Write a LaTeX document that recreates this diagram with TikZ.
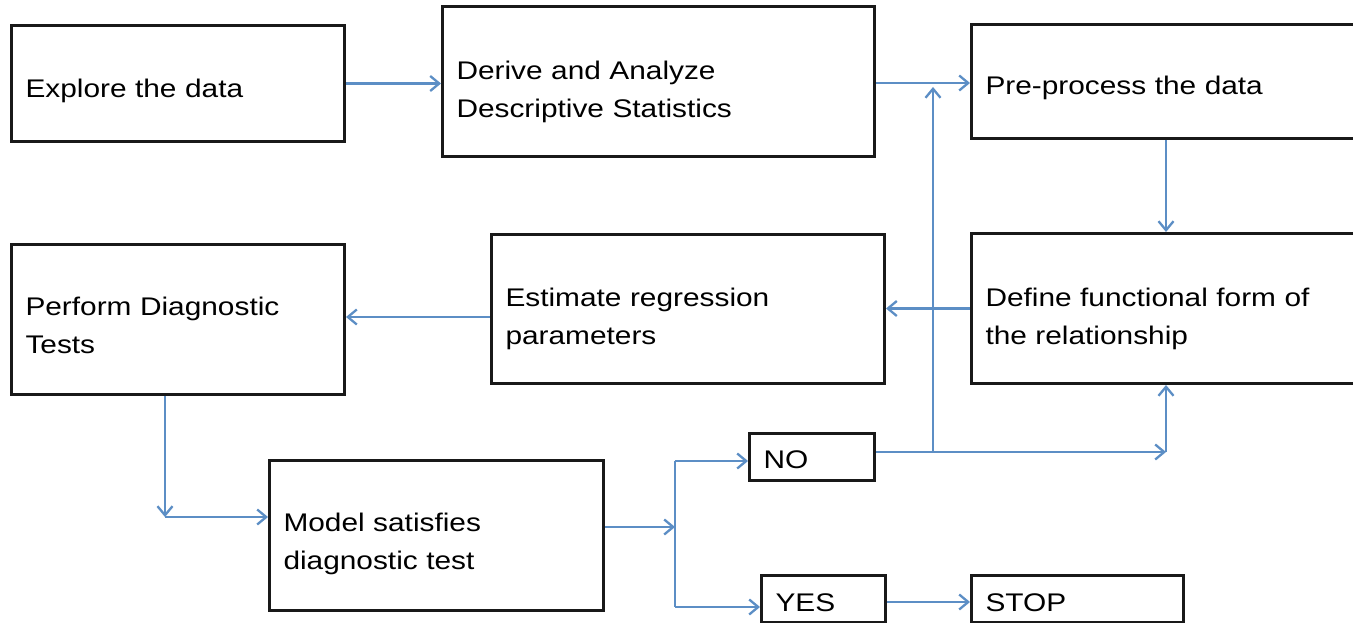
\documentclass[tikz,border=0pt]{standalone}
\usepackage{fontspec}
\setmainfont{Liberation Sans}[FakeStretch=1.17]
\usetikzlibrary{arrows.meta}
\definecolor{flowblue}{RGB}{92,142,197}
\begin{document}
\begin{tikzpicture}[x=1pt,y=-1pt,
  box/.style={draw=black!90, line width=3pt, rectangle, inner xsep=14pt, inner ysep=0pt,
    align=left, anchor=north west, font=\fontsize{25.5}{37.5}\selectfont},
  twoline/.style={box, text height=18.6pt, text depth=#1},
  oneline/.style={box, text height=#1, text depth=0pt},
  conn/.style={draw=flowblue, line width=2.3pt},
  arr/.style={conn, -{Straight Barb[length=9pt,width=15pt]}}
]
\useasboundingbox[fill=white] (0,0) rectangle (1353,623);

\node[oneline=27.3pt, minimum height=116pt, text width=305pt] (explore) at (10,24) {Explore the data};
\node[twoline=22.3pt, minimum height=150pt, text width=404pt] (derive) at (441,5) {Derive and Analyze\\Descriptive Statistics};
\node[oneline=25.3pt, minimum height=114pt, text width=360pt] (pre) at (970,23) {Pre-process the data};
\node[twoline=22.3pt, minimum height=150pt, text width=360pt] (define) at (970,232) {Define functional form of\\the relationship};
\node[twoline=23.3pt, minimum height=149pt, text width=365pt] (estimate) at (490,233) {Estimate regression\\parameters};
\node[twoline=26.3pt, minimum height=150pt, text width=305pt] (perform) at (10,243) {Perform Diagnostic\\Tests};
\node[twoline=26.3pt, minimum height=150pt, text width=306pt] (model) at (268,459) {Model satisfies\\diagnostic test};
\node[oneline=23.3pt, minimum height=47pt, text width=97pt] (no) at (748,432) {NO};
\node[oneline=24.3pt, minimum height=47pt, text width=96pt] (yes) at (760,574) {YES};
\node[oneline=24.3pt, minimum height=47pt, text width=184pt] (stop) at (970,574) {STOP};

\coordinate (jP) at (165,517);
\coordinate (jM) at (675,527);
\coordinate (jN) at (675,461);
\coordinate (jY) at (675,607);
\coordinate (jR) at (1166,452);
\coordinate (jB) at (933,452);
\coordinate (jT) at (933,87);
\coordinate (jE) at (420,317);
\coordinate (jD) at (920,83);
\coordinate (jS) at (920,602);

\draw[arr] (explore.east) -- (explore.east -| derive.west);
\draw[arr] (derive.east |- jD) -- (pre.west |- jD);
\draw[arr] (pre.south -| jR) -- (define.north -| jR);
\draw[arr] (define.west) -- (define.west -| estimate.east);
\draw[arr] (estimate.west |- jE) -- (perform.east |- jE);
\draw[arr] (perform.south -| jP) -- (jP);
\draw[arr] (jP) -- (model.west |- jP);
\draw[arr] (model.east |- jM) -- (jM);
\draw[conn] (jN) -- (jY);
\draw[arr] (jN) -- (no.west |- jN);
\draw[arr] (jY) -- (yes.west |- jY);
\draw[arr] (no.east |- jR) -- (jR);
\draw[arr] (jR) -- (jR |- define.south);
\draw[arr] (jB) -- (jT);
\draw[arr] (yes.east |- jS) -- (stop.west |- jS);
\end{tikzpicture}
\end{document}
